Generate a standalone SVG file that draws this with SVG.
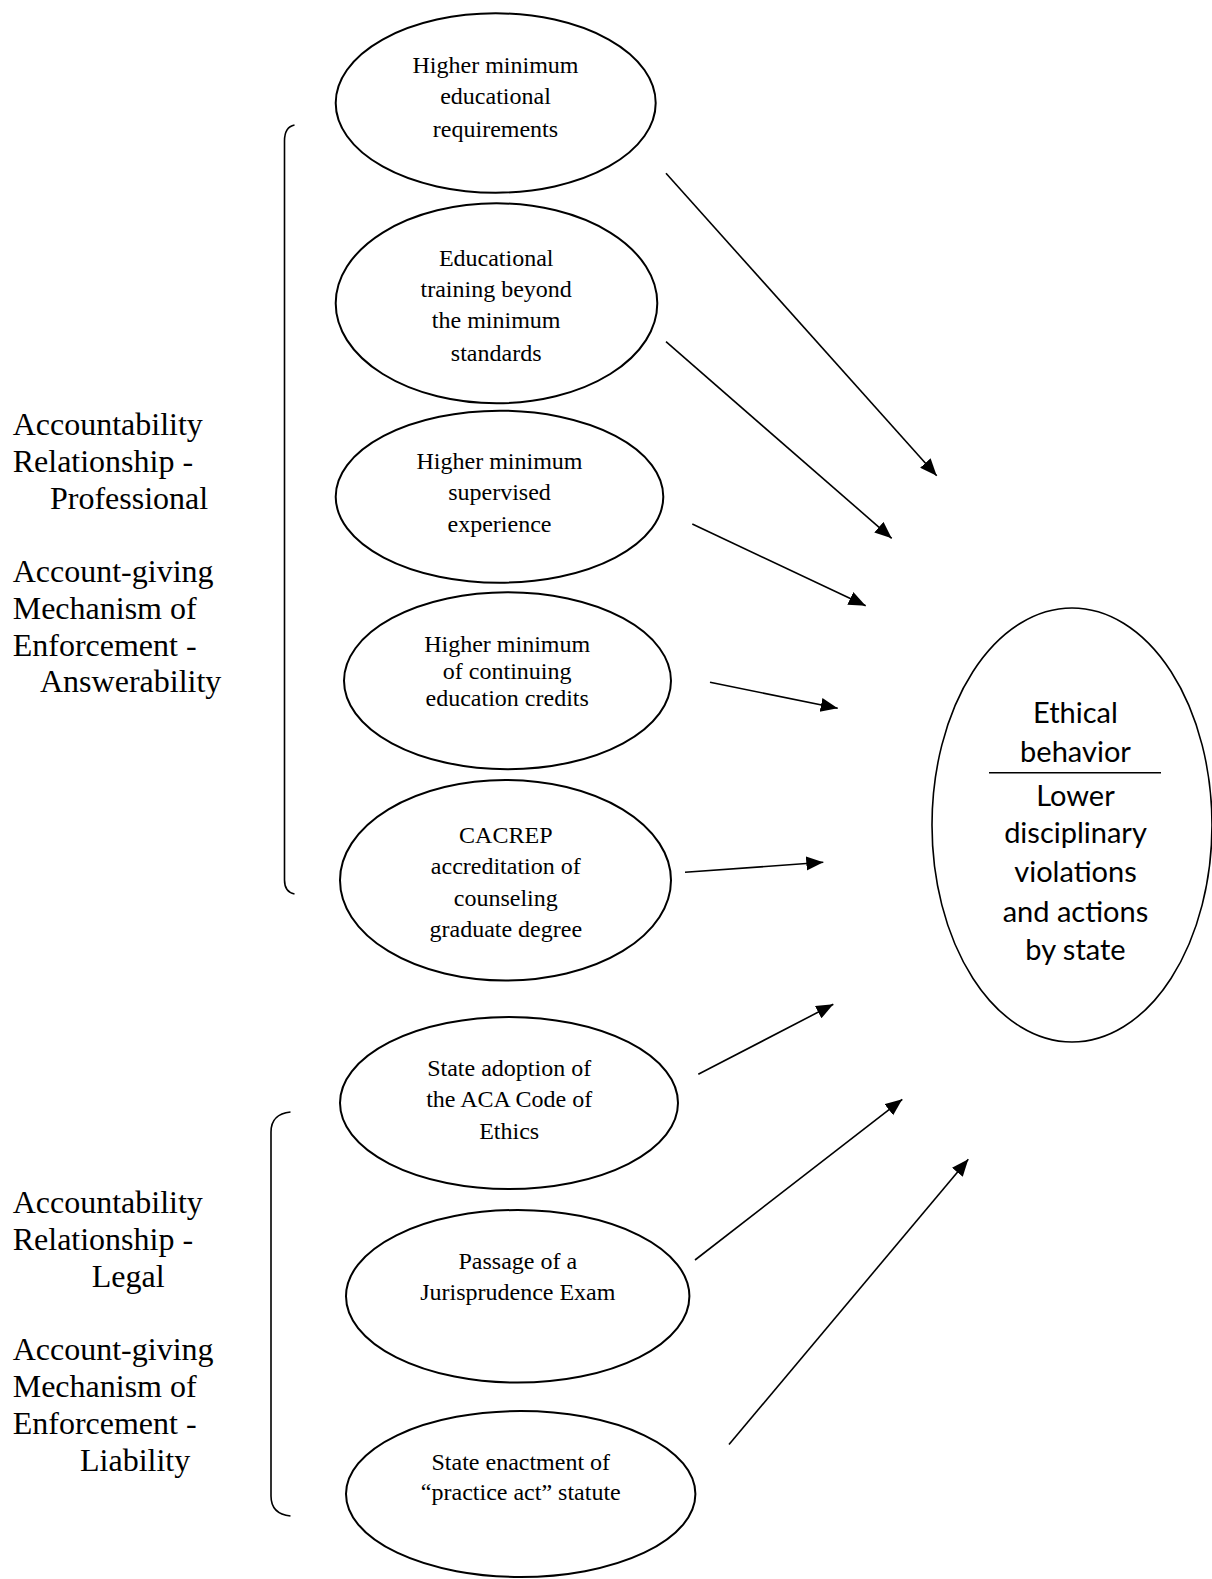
<svg xmlns="http://www.w3.org/2000/svg" width="1212" height="1579" viewBox="0 0 1212 1579">
<style>
.node{fill:#fff;stroke:#000;stroke-width:2}
.big{fill:#fff;stroke:#000;stroke-width:1.6}
.t{font-family:"Liberation Serif","Times New Roman",serif;font-size:24px;fill:#000;text-anchor:middle}
.lbl{font-family:"Liberation Serif","Times New Roman",serif;font-size:32px;fill:#000}
.ct{font-family:"Lato","Carlito","Liberation Sans",sans-serif;font-size:29px;fill:#000;text-anchor:middle}
.conn line{stroke:#000;stroke-width:1.6;marker-end:url(#ah)}
.br{fill:none;stroke:#000;stroke-width:1.6}
</style>
<defs>
<marker id="ah" markerUnits="userSpaceOnUse" markerWidth="18" markerHeight="15" refX="17" refY="7" orient="auto">
<path d="M0,0 L17,7 L0,14 z" fill="#000"/>
</marker>
</defs>
<rect width="1212" height="1579" fill="#fff"/>

<g id="labels">
<text class="lbl" x="12.7" y="435">Accountability</text>
<text class="lbl" x="12.7" y="471.8">Relationship -</text>
<text class="lbl" x="50" y="508.6">Professional</text>
<text class="lbl" x="12.7" y="582">Account-giving</text>
<text class="lbl" x="12.7" y="618.8">Mechanism of</text>
<text class="lbl" x="12.7" y="655.6">Enforcement -</text>
<text class="lbl" x="40" y="692.4">Answerability</text>
<text class="lbl" x="12.7" y="1213">Accountability</text>
<text class="lbl" x="12.7" y="1249.8">Relationship -</text>
<text class="lbl" x="91.7" y="1286.6">Legal</text>
<text class="lbl" x="12.7" y="1360.2">Account-giving</text>
<text class="lbl" x="12.7" y="1397">Mechanism of</text>
<text class="lbl" x="12.7" y="1433.8">Enforcement -</text>
<text class="lbl" x="80" y="1470.6">Liability</text>
</g>

<g id="brackets">
<path class="br" d="M294.5,125 Q284.5,127 284.5,141 L284.5,880 Q284.5,892 294.5,894"/>
<path class="br" d="M290.5,1112 Q271,1114 271,1132 L271,1496 Q271,1514 290.5,1516"/>
</g>

<g id="n1">
<ellipse class="node" cx="495.7" cy="103" rx="160" ry="89.7"/>
<text class="t" x="495.5" y="72.7">Higher minimum</text>
<text class="t" x="495.5" y="104.3">educational</text>
<text class="t" x="495.5" y="136.7">requirements</text>
</g>
<g id="n2">
<ellipse class="node" cx="496.5" cy="303.3" rx="160.8" ry="100"/>
<text class="t" x="496.2" y="265.7">Educational</text>
<text class="t" x="496.2" y="296.7">training beyond</text>
<text class="t" x="496.2" y="328.3">the minimum</text>
<text class="t" x="496.2" y="360.7">standards</text>
</g>
<g id="n3">
<ellipse class="node" cx="499.5" cy="496.7" rx="163.8" ry="86"/>
<text class="t" x="499.5" y="469">Higher minimum</text>
<text class="t" x="499.5" y="500">supervised</text>
<text class="t" x="499.5" y="531.7">experience</text>
</g>
<g id="n4">
<ellipse class="node" cx="507.5" cy="680.8" rx="163.5" ry="88.5"/>
<text class="t" x="507.2" y="652.3">Higher minimum</text>
<text class="t" x="507.2" y="679.3">of continuing</text>
<text class="t" x="507.2" y="706">education credits</text>
</g>
<g id="n5">
<ellipse class="node" cx="505.5" cy="880.3" rx="165.5" ry="100.3"/>
<text class="t" x="505.8" y="843.3">CACREP</text>
<text class="t" x="505.8" y="874.3">accreditation of</text>
<text class="t" x="505.8" y="905.7">counseling</text>
<text class="t" x="505.8" y="937.3">graduate degree</text>
</g>
<g id="n6">
<ellipse class="node" cx="509" cy="1103" rx="169" ry="86"/>
<text class="t" x="509.2" y="1075.7">State adoption of</text>
<text class="t" x="509.2" y="1107.3">the ACA Code of</text>
<text class="t" x="509.2" y="1139">Ethics</text>
</g>
<g id="n7">
<ellipse class="node" cx="517.7" cy="1296.3" rx="171.7" ry="86.3"/>
<text class="t" x="517.8" y="1269.3">Passage of a</text>
<text class="t" x="517.8" y="1300">Jurisprudence Exam</text>
</g>
<g id="n8">
<ellipse class="node" cx="520.7" cy="1494" rx="174.7" ry="83"/>
<text class="t" x="520.8" y="1470">State enactment of</text>
<text class="t" x="520.8" y="1500">“practice act” statute</text>
</g>

<g id="outcome">
<ellipse class="big" cx="1072" cy="825" rx="140" ry="217"/>
<text class="ct" x="1075.5" y="723.3">Ethical</text>
<text class="ct" x="1075.5" y="761.7">behavior</text>
<line x1="989" y1="772.7" x2="1161" y2="772.7" stroke="#000" stroke-width="1.6"/>
<text class="ct" x="1075.5" y="806">Lower</text>
<text class="ct" x="1075.5" y="842.7">disciplinary</text>
<text class="ct" x="1075.5" y="881.7">violations</text>
<text class="ct" x="1075.5" y="921.7">and actions</text>
<text class="ct" x="1075.5" y="960">by state</text>
</g>

<g id="connectors" class="conn">
<line x1="666" y1="173.3" x2="936.7" y2="475.7"/>
<line x1="666" y1="341.7" x2="891.7" y2="538.3"/>
<line x1="692.3" y1="524" x2="865.7" y2="605.7"/>
<line x1="710" y1="682.3" x2="837.7" y2="708.3"/>
<line x1="685" y1="872.3" x2="823.3" y2="862.3"/>
<line x1="698.3" y1="1074.3" x2="833.3" y2="1004.3"/>
<line x1="695" y1="1260" x2="902.3" y2="1099.3"/>
<line x1="729" y1="1444.5" x2="968.3" y2="1159.3"/>
</g>
</svg>
